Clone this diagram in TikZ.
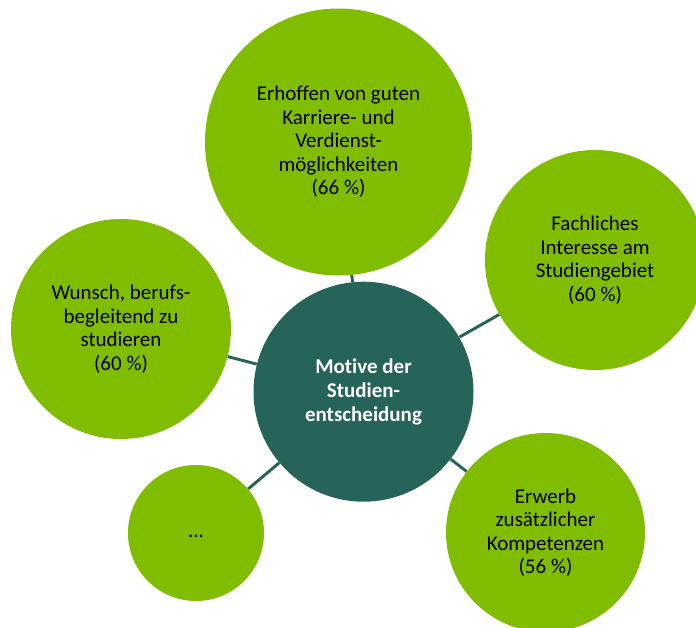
\documentclass[tikz,border=0pt]{standalone}
\usepackage{fontspec}
\setmainfont{Carlito}[Ligatures={NoCommon,NoRare,NoContextual}]
\definecolor{leaf}{HTML}{80BC00}
\definecolor{teal}{HTML}{266358}
\begin{document}
\begin{tikzpicture}[x=0.75pt,y=-0.75pt,
  bubble/.style={circle,fill=leaf,draw=none,inner sep=0pt,align=center,
    font=\fontsize{15.75}{17.6}\selectfont,text=black},
  hub/.style={circle,fill=teal,draw=none,inner sep=0pt,align=center,
    font=\fontsize{15.75}{18}\selectfont\bfseries,text=white},
  conn/.style={draw=teal,line width=2.2pt}]
\useasboundingbox (0,0) rectangle (696,628);
\clip (0,0) rectangle (696,628);
\node[bubble,minimum size=200.25pt] (top) at (338.5,142) {Erhoffen von guten\\Karriere- und\\Verdienst-\\möglichkeiten\\(66~\%)};
\node[hub,minimum size=165pt] (c) at (363.5,391.7) {Motive der\\Studien-\\entscheidung};
\node[bubble,minimum size=165pt] (r) at (595,260) {Fachliches\\Interesse am\\Studiengebiet\\(60~\%)};
\node[bubble,minimum size=165pt] (l) at (121,329) {Wunsch, berufs-\\begleitend zu\\studieren\\(60~\%)};
\node[bubble,minimum size=102pt] (bl) at (196,533) {\vphantom{Ag}...};
\node[bubble,minimum size=149.25pt] (br) at (545.5,532.5) {Erwerb\\zusätzlicher\\Kompetenzen\\(56~\%)};
\draw[conn] (c) -- (top);
\draw[conn] (c) -- (r);
\draw[conn] (c) -- (l);
\draw[conn] (c) -- (bl);
\draw[conn] (c) -- (br);
\end{tikzpicture}
\end{document}
